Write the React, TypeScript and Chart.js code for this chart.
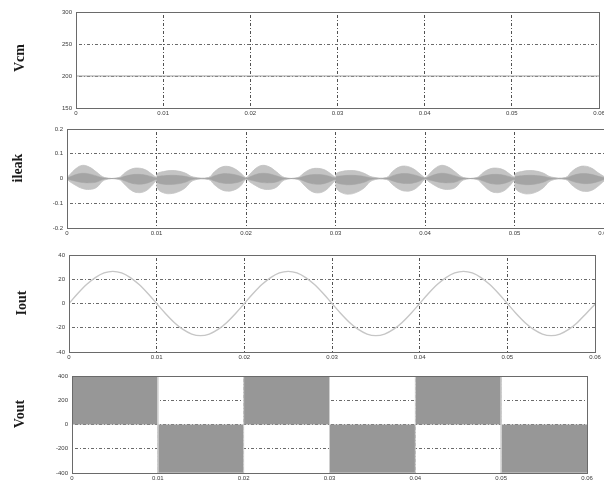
import React, { useEffect, useRef } from 'react';
import { Chart, registerables } from 'chart.js';

Chart.register(...registerables);

// ---------- shared axis ----------
const X_TICKS = [0, 0.01, 0.02, 0.03, 0.04, 0.05, 0.06];
const X_TICK_LABELS = ['0', '0.01', '0.02', '0.03', '0.04', '0.05', '0.06'];

// ---------- Vcm ----------
const VCM_T = [0, 0.06];
const VCM_V = [200, 200];
const VCM_TICKS = [150, 200, 250, 300];
const VCM_TICK_LABELS = ['150', '200', '250', '300'];

// ---------- ileak (burst envelopes) ----------
const ILEAK_T = [
  0, 0.0003, 0.001, 0.0017, 0.0025, 0.0033, 0.0042,
  0.0058, 0.0065, 0.0072, 0.0079, 0.0087, 0.0094, 0.01,
  0.0101, 0.0108, 0.0116, 0.0124, 0.0132, 0.0141,
  0.0158, 0.0165, 0.0172, 0.0179, 0.0187, 0.0194, 0.0199,
  0.0201, 0.0204, 0.0211, 0.0218, 0.0226, 0.0234, 0.0243,
  0.0258, 0.0265, 0.0272, 0.0279, 0.0287, 0.0294, 0.03,
  0.0301, 0.0308, 0.0316, 0.0324, 0.0332, 0.0341,
  0.0357, 0.0364, 0.0371, 0.0378, 0.0386, 0.0393, 0.0399,
  0.0401, 0.0404, 0.0411, 0.0418, 0.0426, 0.0434, 0.0443,
  0.0458, 0.0465, 0.0472, 0.0479, 0.0487, 0.0494, 0.05,
  0.0501, 0.0508, 0.0516, 0.0524, 0.0532, 0.0541,
  0.0557, 0.0564, 0.0571, 0.0578, 0.0586, 0.0593, 0.06,
];
const ILEAK_UPPER = [
  0.003, 0.015, 0.04, 0.053, 0.046, 0.026, 0.004,
  0.004, 0.024, 0.038, 0.042, 0.036, 0.02, 0.006,
  0.02, 0.028, 0.032, 0.03, 0.022, 0.006,
  0.004, 0.028, 0.045, 0.049, 0.04, 0.022, 0.005,
  0.004, 0.016, 0.041, 0.053, 0.047, 0.027, 0.004,
  0.004, 0.023, 0.037, 0.041, 0.036, 0.021, 0.006,
  0.02, 0.029, 0.032, 0.03, 0.021, 0.006,
  0.004, 0.029, 0.046, 0.05, 0.041, 0.023, 0.005,
  0.004, 0.015, 0.04, 0.053, 0.046, 0.026, 0.004,
  0.004, 0.024, 0.038, 0.042, 0.036, 0.02, 0.006,
  0.02, 0.028, 0.032, 0.03, 0.022, 0.006,
  0.004, 0.028, 0.045, 0.05, 0.042, 0.024, 0.008,
];
const ILEAK_LOWER = [
  -0.003, -0.012, -0.028, -0.04, -0.044, -0.036, -0.006,
  -0.004, -0.026, -0.048, -0.057, -0.052, -0.032, -0.01,
  -0.04, -0.058, -0.061, -0.054, -0.038, -0.008,
  -0.004, -0.026, -0.044, -0.051, -0.046, -0.03, -0.006,
  -0.004, -0.013, -0.029, -0.041, -0.044, -0.035, -0.006,
  -0.004, -0.027, -0.049, -0.058, -0.052, -0.031, -0.01,
  -0.04, -0.059, -0.063, -0.055, -0.038, -0.008,
  -0.004, -0.025, -0.043, -0.051, -0.047, -0.03, -0.006,
  -0.004, -0.012, -0.028, -0.04, -0.044, -0.036, -0.006,
  -0.004, -0.026, -0.048, -0.057, -0.052, -0.032, -0.01,
  -0.04, -0.058, -0.062, -0.055, -0.038, -0.008,
  -0.004, -0.026, -0.044, -0.052, -0.048, -0.032, -0.01,
];
const ILEAK_TICKS = [-0.2, -0.1, 0, 0.1, 0.2];
const ILEAK_TICK_LABELS = ['-0.2', '-0.1', '0', '0.1', '0.2'];

// ---------- Iout ----------
const IOUT_T = [
  0, 0.001, 0.002, 0.003, 0.004, 0.005, 0.006, 0.007, 0.008, 0.009,
  0.01, 0.011, 0.012, 0.013, 0.014, 0.015, 0.016, 0.017, 0.018, 0.019,
  0.02, 0.021, 0.022, 0.023, 0.024, 0.025, 0.026, 0.027, 0.028, 0.029,
  0.03, 0.031, 0.032, 0.033, 0.034, 0.035, 0.036, 0.037, 0.038, 0.039,
  0.04, 0.041, 0.042, 0.043, 0.044, 0.045, 0.046, 0.047, 0.048, 0.049,
  0.05, 0.051, 0.052, 0.053, 0.054, 0.055, 0.056, 0.057, 0.058, 0.059,
  0.06,
];
const IOUT_V = [
  0, 8.2, 15.6, 21.4, 25.2, 26.5, 25.2, 21.4, 15.6, 8.2,
  0, -8.2, -15.6, -21.4, -25.2, -26.5, -25.2, -21.4, -15.6, -8.2,
  0, 8.2, 15.6, 21.4, 25.2, 26.5, 25.2, 21.4, 15.6, 8.2,
  0, -8.2, -15.6, -21.4, -25.2, -26.5, -25.2, -21.4, -15.6, -8.2,
  0, 8.2, 15.6, 21.4, 25.2, 26.5, 25.2, 21.4, 15.6, 8.2,
  0, -8.2, -15.6, -21.4, -25.2, -26.5, -25.2, -21.4, -15.6, -8.2,
  -0.5,
];
const IOUT_TICKS = [-40, -20, 0, 20, 40];
const IOUT_TICK_LABELS = ['-40', '-20', '0', '20', '40'];

// ---------- Vout ----------
const VOUT_T = [0, 0.01, 0.01, 0.02, 0.02, 0.03, 0.03, 0.04, 0.04, 0.05, 0.05, 0.06];
const VOUT_V = [400, 400, -400, -400, 400, 400, -400, -400, 400, 400, -400, -400];
const VOUT_TICKS = [-400, -200, 0, 200, 400];
const VOUT_TICK_LABELS = ['-400', '-200', '0', '200', '400'];

const W = 604;
const TICK_FONT = { family: 'Liberation Sans, Arial, sans-serif', size: 6 };
const TICK_COLOR = '#3a3a3a';

const pts = (t: number[], v: number[], k = 1) => t.map((x, i) => ({ x, y: v[i] * k }));

type PanelDef = {
  title: string;
  titleX: number;
  titleY: number;
  canvasTop: number;
  canvasHeight: number;
  plotLeft: number;
  plotTop: number;
  plotRight: number;
  plotBottom: number;
  yMin: number;
  yMax: number;
  yTicks: number[];
  yTickLabels: string[];
  datasets: any[];
};

const PANELS: PanelDef[] = [
  {
    title: 'Vcm', titleX: 20, titleY: 58,
    canvasTop: 0, canvasHeight: 122,
    plotLeft: 76, plotTop: 12, plotRight: 599, plotBottom: 108,
    yMin: 150, yMax: 300, yTicks: VCM_TICKS, yTickLabels: VCM_TICK_LABELS,
    datasets: [
      { data: pts(VCM_T, VCM_V), borderColor: '#a0a0a0', borderWidth: 1.2, pointRadius: 0, fill: false },
    ],
  },
  {
    title: 'ileak', titleX: 18, titleY: 168,
    canvasTop: 122, canvasHeight: 118,
    plotLeft: 67, plotTop: 129, plotRight: 604, plotBottom: 228,
    yMin: -0.2, yMax: 0.2, yTicks: ILEAK_TICKS, yTickLabels: ILEAK_TICK_LABELS,
    datasets: [
      { data: pts(ILEAK_T, ILEAK_UPPER, 0.4), borderColor: '#a2a2a2', borderWidth: 0.5, backgroundColor: '#a4a4a4', fill: '+1', pointRadius: 0, tension: 0.4 },
      { data: pts(ILEAK_T, ILEAK_LOWER, 0.4), borderColor: '#a2a2a2', borderWidth: 0.5, fill: false, pointRadius: 0, tension: 0.4 },
      { data: pts(ILEAK_T, ILEAK_UPPER), borderColor: '#c0c0c0', borderWidth: 0.8, backgroundColor: '#c4c4c4', fill: '+1', pointRadius: 0, tension: 0.4 },
      { data: pts(ILEAK_T, ILEAK_LOWER), borderColor: '#c0c0c0', borderWidth: 0.8, fill: false, pointRadius: 0, tension: 0.4 },
    ],
  },
  {
    title: 'Iout', titleX: 22, titleY: 303,
    canvasTop: 240, canvasHeight: 125,
    plotLeft: 69, plotTop: 255, plotRight: 595, plotBottom: 352,
    yMin: -40, yMax: 40, yTicks: IOUT_TICKS, yTickLabels: IOUT_TICK_LABELS,
    datasets: [
      { data: pts(IOUT_T, IOUT_V), borderColor: '#c6c6c6', borderWidth: 1.4, pointRadius: 0, fill: false, cubicInterpolationMode: 'monotone' },
    ],
  },
  {
    title: 'Vout', titleX: 20, titleY: 414,
    canvasTop: 365, canvasHeight: 119,
    plotLeft: 72, plotTop: 376, plotRight: 587, plotBottom: 473,
    yMin: -400, yMax: 400, yTicks: VOUT_TICKS, yTickLabels: VOUT_TICK_LABELS,
    datasets: [
      { data: pts(VOUT_T, VOUT_V), borderColor: '#d0d0d0', borderWidth: 1, backgroundColor: '#979797', fill: 'origin', pointRadius: 0 },
    ],
  },
];

function Panel({ p }: { p: PanelDef }) {
  const ref = useRef<HTMLCanvasElement>(null);
  useEffect(() => {
    if (!ref.current) return;
    const boxPlugin = {
      id: 'box',
      afterDatasetsDraw(chart: any) {
        const { ctx, chartArea: a } = chart;
        const l = Math.round(a.left) + 0.5;
        const t = Math.round(a.top) + 0.5;
        const r = Math.round(a.right) + 0.5;
        const b = Math.round(a.bottom) + 0.5;
        ctx.save();
        ctx.strokeStyle = '#6a6a6a';
        ctx.lineWidth = 1;
        ctx.strokeRect(l, t, r - l, b - t);
        ctx.restore();
      },
    };
    const chart = new Chart(ref.current, {
      type: 'line',
      data: { datasets: p.datasets },
      options: {
        animation: false,
        responsive: false,
        maintainAspectRatio: false,
        layout: {
          autoPadding: false,
          padding: { left: 0, right: W - p.plotRight, top: p.plotTop - p.canvasTop, bottom: 0 },
        },
        plugins: { legend: { display: false }, tooltip: { enabled: false } },
        elements: { point: { radius: 0 } },
        scales: {
          x: {
            type: 'linear',
            min: 0,
            max: 0.06,
            afterBuildTicks: (s: any) => { s.ticks = X_TICKS.map((v) => ({ value: v })); },
            afterFit: (s: any) => {
              s.height = p.canvasTop + p.canvasHeight - p.plotBottom;
              s.paddingLeft = 0;
              s.paddingRight = 0;
            },
            ticks: {
              callback: (v: any) => X_TICK_LABELS[X_TICKS.indexOf(v)] ?? '',
              font: TICK_FONT, color: TICK_COLOR, padding: 2, maxRotation: 0, autoSkip: false,
            },
            grid: { color: '#505050', lineWidth: 1, drawTicks: false },
            border: { display: false, dash: [1, 2, 3, 2] },
          },
          y: {
            type: 'linear',
            min: p.yMin,
            max: p.yMax,
            afterBuildTicks: (s: any) => { s.ticks = p.yTicks.map((v) => ({ value: v })); },
            afterFit: (s: any) => {
              s.width = p.plotLeft;
              s.paddingTop = 0;
              s.paddingBottom = 0;
            },
            ticks: {
              callback: (v: any) => p.yTickLabels[p.yTicks.indexOf(v)] ?? '',
              font: TICK_FONT, color: TICK_COLOR, padding: 4, autoSkip: false,
            },
            grid: { color: '#6a6a6a', lineWidth: 1, drawTicks: false },
            border: { display: false, dash: [1, 2, 3, 2] },
          },
        },
      },
      plugins: [boxPlugin],
    } as any);
    return () => chart.destroy();
  }, [p]);
  return (
    <canvas
      ref={ref}
      width={W}
      height={p.canvasHeight}
      style={{ position: 'absolute', left: 0, top: p.canvasTop, width: W, height: p.canvasHeight }}
    />
  );
}

export default function App() {
  return (
    <div style={{ position: 'absolute', left: 0, top: 0, width: W, height: 484, background: '#fff', overflow: 'hidden' }}>
      {PANELS.map((p) => (
        <Panel key={p.title} p={p} />
      ))}
      {PANELS.map((p) => (
        <div
          key={'t' + p.title}
          style={{
            position: 'absolute',
            left: p.titleX,
            top: p.titleY,
            transform: 'translate(-50%, -50%) rotate(-90deg)',
            fontFamily: '"Liberation Serif", "Times New Roman", serif',
            fontWeight: 'bold',
            fontSize: 14,
            color: '#1a1a1a',
            whiteSpace: 'nowrap',
            lineHeight: 1,
          }}
        >
          {p.title}
        </div>
      ))}
    </div>
  );
}
